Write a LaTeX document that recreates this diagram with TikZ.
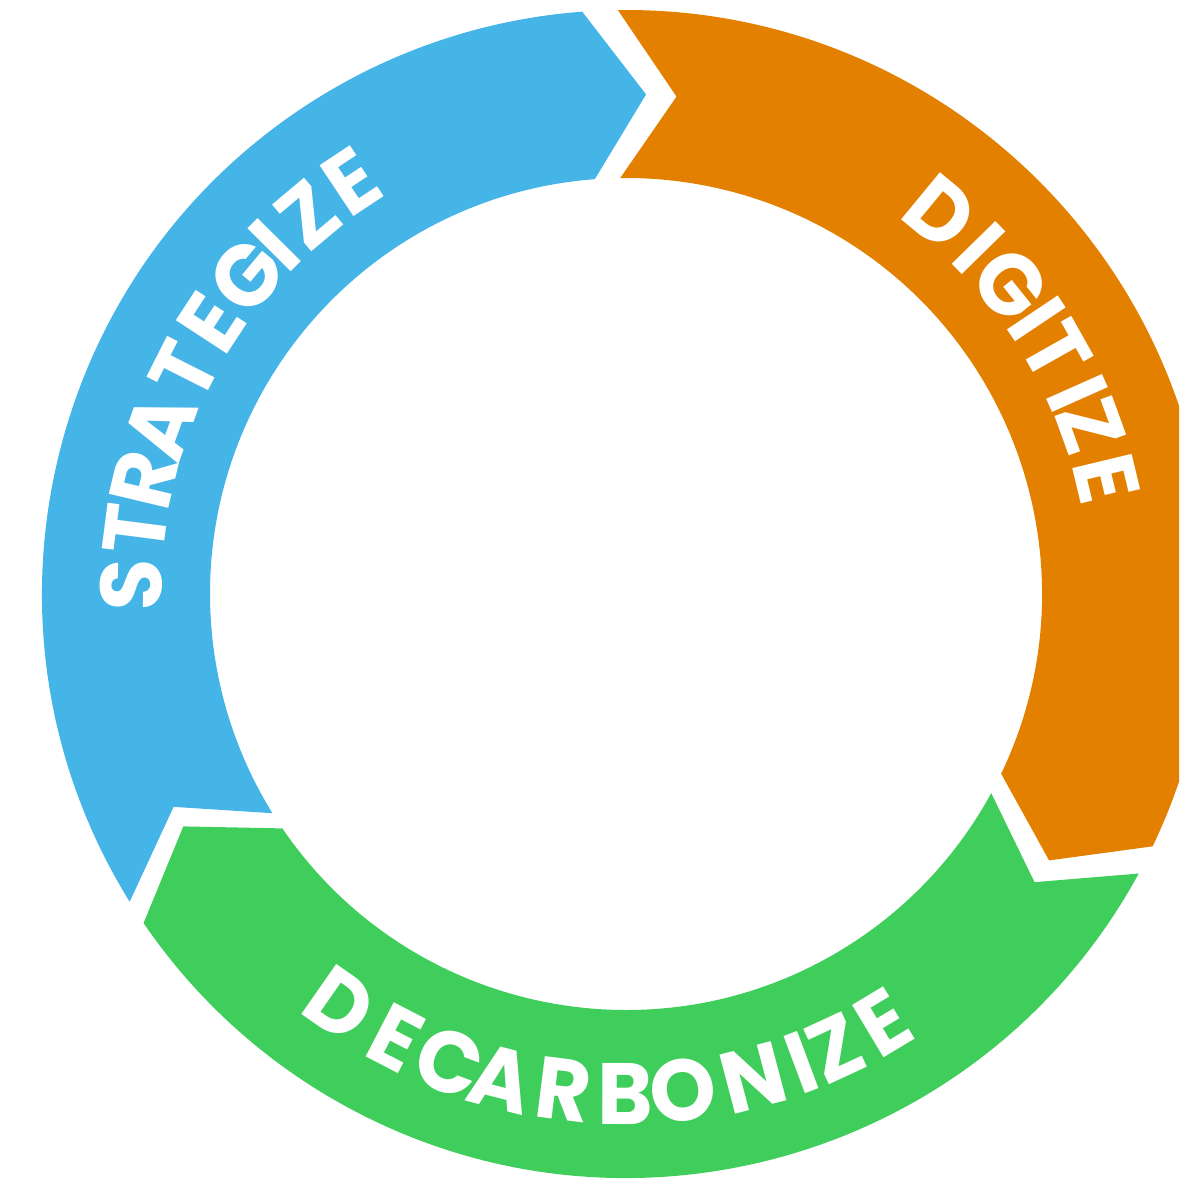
\documentclass[tikz,border=0pt]{standalone}
\usepackage{fontspec}
\newfontfamily\lab{Poppins Bold}
\definecolor{cblue}{HTML}{45B4E6}
\definecolor{corange}{HTML}{E48000}
\definecolor{cgreen}{HTML}{3FCE5B}
\def\ringout{584}
\def\ringin{416}
\def\ringmid{500}
\def\tipd{6.6}
\def\sx{0.97}
\newcommand\ringseg[3]{%
  \fill[#1] (#2:\ringout) arc[start angle=#2, end angle=#3, radius=\ringout]
    -- ({#3-\tipd}:\ringmid) -- (#3:\ringin)
    arc[start angle=#3, end angle=#2, radius=\ringin]
    -- ({#2-\tipd}:\ringmid) -- cycle;}
\tikzset{lt/.style={text=white, inner sep=0pt, outer sep=0pt,
  font={\lab\fontsize{87}{92}\selectfont}}}
\begin{document}
\begin{tikzpicture}[x=1pt,y=1pt]
\useasboundingbox (0,0) rectangle (1179,1180);
\clip (0,0) rectangle (1179,1180);
\begin{scope}[shift={(626,586)}]
  \ringseg{cblue}{211.8}{94.3}
  \ringseg{corange}{90.8}{-25.6}
  \ringseg{cgreen}{-28.6}{-145.7}
  \foreach \ch/\ang [count=\i] in {S/179.0,T/172.6,R/166.6,A/160.2,T/153.2,E/146.8,G/140.0,I/135.2,Z/130.0,E/123.6}
    \node[rotate=\ang-90, lt] (s\i) at (\ang:495) {\scalebox{\sx}[1]{\ch}};
  \foreach \ch/\ang [count=\i] in {D/50.5,I/44.4,G/38.8,I/33.8,T/29.4,I/24.0,Z/19.9,E/13.5}
    \node[rotate=\ang-90, lt] (g\i) at (\ang:494) {\scalebox{\sx}[1]{\ch}};
  \foreach \ch/\ang [count=\i] in {D/235.1,E/242.6,C/249.3,A/255.6,R/262.8,B/269.9,O/276.5,N/284.8,I/290.5,Z/294.8,E/301.0}
    \node[rotate=\ang+90, lt] (d\i) at (\ang:500) {\scalebox{\sx}[1]{\ch}};
\end{scope}
\end{tikzpicture}
\end{document}
